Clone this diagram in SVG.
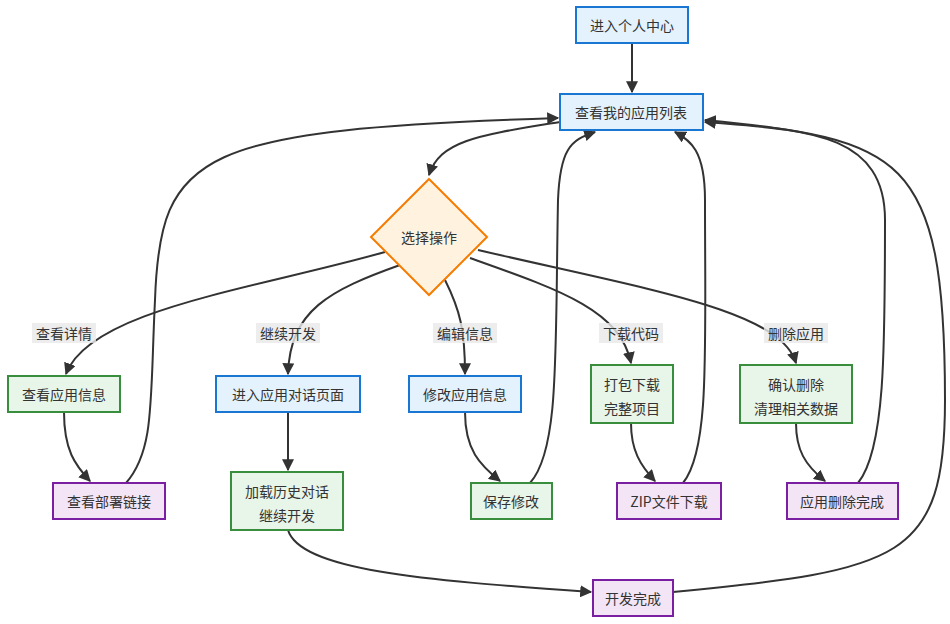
<svg xmlns="http://www.w3.org/2000/svg" width="950" height="624" viewBox="0 0 950 624">
<style>
text{font-family:"Noto Sans CJK SC","Liberation Sans",sans-serif;font-size:14px;fill:#333;text-anchor:middle;dominant-baseline:central}
.b{fill:#e3f2fd;stroke:#1976d2;stroke-width:2}
.g{fill:#e8f5e9;stroke:#388e3c;stroke-width:2}
.p{fill:#f3e5f5;stroke:#7b1fa2;stroke-width:2}
.o{fill:#fff3e0;stroke:#f57c00;stroke-width:2}
.e path{fill:none;stroke:#333;stroke-width:2;marker-end:url(#a)}
.lb{fill:#e8e8e8;opacity:.8}
</style>
<defs><marker id="a" viewBox="0 0 10 10" refX="9" refY="5" markerWidth="6" markerHeight="6" orient="auto"><path d="M0,0L10,5L0,10z" fill="#333"/></marker></defs>
<g class="e">
<path d="M632,43V92"/>
<path d="M560,122C480,135 440,140 429,175"/>
<path d="M385,252C250,290 90,310 66,374"/>
<path d="M400,265C330,290 290,310 288,374"/>
<path d="M445,280C460,310 465,330 465,374"/>
<path d="M470,258C560,290 620,310 631,363"/>
<path d="M478,250C650,290 780,310 796,363"/>
<path d="M64,412C64,450 75,465 90,481"/>
<path d="M288,412V470"/>
<path d="M465,412C465,450 480,465 500,481"/>
<path d="M631,423C631,450 640,465 655,481"/>
<path d="M796,423C796,450 805,465 825,481"/>
<path d="M126,483C155,450 150,400 155,300C160,150 200,130 558,118"/>
<path d="M530,483C560,450 555,350 558,200C560,150 570,140 595,132"/>
<path d="M683,483C710,450 705,350 705,200C705,150 690,140 675,132"/>
<path d="M858,483C885,450 885,350 885,220C885,130 800,130 705,122"/>
<path d="M288,530C300,570 420,580 591,592"/>
<path d="M673,592C900,570 945,560 945,400C945,150 900,140 705,120"/>
</g>
<g id="labels">
<rect class="lb" x="32" y="323" width="64" height="20"/><text x="64" y="333">查看详情</text>
<rect class="lb" x="256" y="323" width="64" height="20"/><text x="288" y="333">继续开发</text>
<rect class="lb" x="433" y="323" width="64" height="20"/><text x="465" y="333">编辑信息</text>
<rect class="lb" x="599" y="323" width="64" height="20"/><text x="631" y="333">下载代码</text>
<rect class="lb" x="764" y="323" width="64" height="20"/><text x="796" y="333">删除应用</text>
</g>
<g id="n1"><rect class="b" x="576" y="7" width="112" height="36"/><text x="632" y="25">进入个人中心</text></g>
<g id="n2"><rect class="b" x="560" y="94" width="143" height="36"/><text x="631" y="112">查看我的应用列表</text></g>
<g id="n3"><path class="o" d="M429,179L487,237L429,295L371,237Z"/><text x="429" y="237">选择操作</text></g>
<g id="n4"><rect class="g" x="8" y="376" width="112" height="36"/><text x="64" y="394">查看应用信息</text></g>
<g id="n5"><rect class="b" x="216" y="376" width="144" height="36"/><text x="288" y="394">进入应用对话页面</text></g>
<g id="n6"><rect class="b" x="409" y="376" width="112" height="36"/><text x="465" y="394">修改应用信息</text></g>
<g id="n7"><rect class="g" x="591" y="365" width="82" height="58"/><text x="632" y="384">打包下载</text><text x="632" y="408">完整项目</text></g>
<g id="n8"><rect class="g" x="740" y="365" width="112" height="58"/><text x="796" y="384">确认删除</text><text x="796" y="408">清理相关数据</text></g>
<g id="n9"><rect class="p" x="53" y="483" width="112" height="36"/><text x="109" y="501">查看部署链接</text></g>
<g id="n10"><rect class="g" x="231" y="472" width="112" height="58"/><text x="287" y="491">加载历史对话</text><text x="287" y="515">继续开发</text></g>
<g id="n11"><rect class="g" x="471" y="483" width="81" height="36"/><text x="511" y="501">保存修改</text></g>
<g id="n12"><rect class="p" x="617" y="483" width="104" height="36"/><text x="669" y="501">ZIP文件下载</text></g>
<g id="n13"><rect class="p" x="787" y="483" width="111" height="36"/><text x="842" y="501">应用删除完成</text></g>
<g id="n14"><rect class="p" x="593" y="580" width="80" height="36"/><text x="633" y="598">开发完成</text></g>
</svg>
